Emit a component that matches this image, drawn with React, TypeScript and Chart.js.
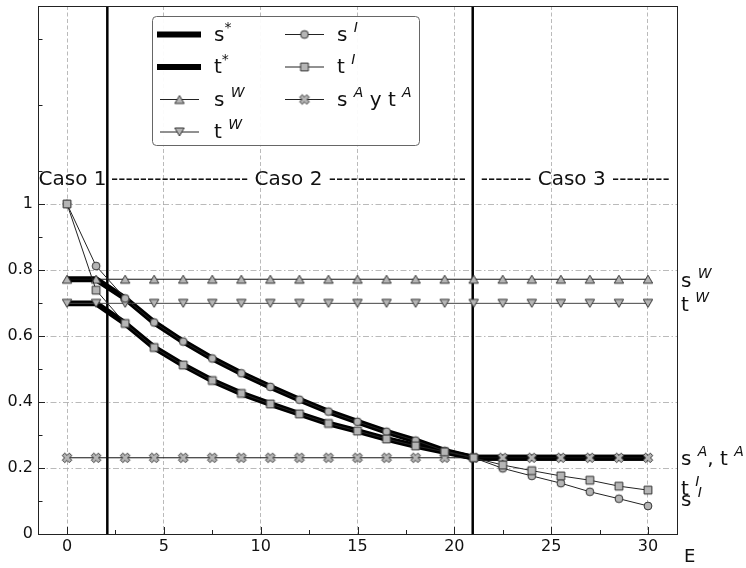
import React, { useEffect, useRef } from 'react';
import { Chart, registerables } from 'chart.js';

Chart.register(...registerables);

// Horizontal axis: E
const E = [0, 1.5, 3, 4.5, 6, 7.5, 9, 10.5, 12, 13.5, 15, 16.5, 18, 19.5, 21, 22.5, 24, 25.5, 27, 28.5, 30];

// Optimal s* and t*
const sStar = [0.772, 0.772, 0.714, 0.641, 0.583, 0.532, 0.487, 0.446, 0.407, 0.371, 0.340, 0.310, 0.283, 0.252, 0.231, 0.231, 0.231, 0.231, 0.231, 0.231, 0.231];
const tStar = [0.699, 0.699, 0.638, 0.565, 0.512, 0.465, 0.426, 0.394, 0.364, 0.335, 0.312, 0.288, 0.267, 0.249, 0.231, 0.231, 0.231, 0.231, 0.231, 0.231, 0.231];

// s^W and t^W
const sW = [0.772, 0.772, 0.772, 0.772, 0.772, 0.772, 0.772, 0.772, 0.772, 0.772, 0.772, 0.772, 0.772, 0.772, 0.772, 0.772, 0.772, 0.772, 0.772, 0.772, 0.772];
const tW = [0.699, 0.699, 0.699, 0.699, 0.699, 0.699, 0.699, 0.699, 0.699, 0.699, 0.699, 0.699, 0.699, 0.699, 0.699, 0.699, 0.699, 0.699, 0.699, 0.699, 0.699];

// s^I and t^I
const sI = [1.0, 0.812, 0.714, 0.641, 0.583, 0.532, 0.487, 0.446, 0.407, 0.371, 0.340, 0.310, 0.283, 0.252, 0.231, 0.199, 0.176, 0.154, 0.128, 0.107, 0.085];
const tI = [1.0, 0.739, 0.638, 0.565, 0.512, 0.465, 0.426, 0.394, 0.364, 0.335, 0.312, 0.288, 0.267, 0.249, 0.231, 0.209, 0.192, 0.176, 0.163, 0.145, 0.133];

// s^A = t^A
const sAtA = [0.231, 0.231, 0.231, 0.231, 0.231, 0.231, 0.231, 0.231, 0.231, 0.231, 0.231, 0.231, 0.231, 0.231, 0.231, 0.231, 0.231, 0.231, 0.231, 0.231, 0.231];

// Boundaries between Caso 1 / Caso 2 / Caso 3
const caseBounds = [2.08, 20.95];

const xTicks = [0, 5, 10, 15, 20, 25, 30];
const xMinorTicks = [2.5, 7.5, 12.5, 17.5, 22.5, 27.5];
const yTicks = [0, 0.2, 0.4, 0.6, 0.8, 1];
const yMinorTicks = [0.1, 0.3, 0.5, 0.7, 0.9, 1.1, 1.3, 1.5];

const FONT = '"DejaVu Sans"';
const INK = '#111';
const GRID = '#a8a8a8';
const MARKER_FILL = '#b5b5b5';
const MARKER_EDGE = '#333';

type Part = { t: string; sup?: boolean; upright?: boolean };

const legendItems: { parts: Part[]; kind: string; col: number; row: number }[] = [
  { parts: [{ t: 's' }, { t: '*', sup: true, upright: true }], kind: 'thick', col: 0, row: 0 },
  { parts: [{ t: 't' }, { t: '*', sup: true, upright: true }], kind: 'thick', col: 0, row: 1 },
  { parts: [{ t: 's ' }, { t: 'W', sup: true }], kind: 'triUp', col: 0, row: 2 },
  { parts: [{ t: 't ' }, { t: 'W', sup: true }], kind: 'triDown', col: 0, row: 3 },
  { parts: [{ t: 's ' }, { t: 'I', sup: true }], kind: 'circle', col: 1, row: 0 },
  { parts: [{ t: 't ' }, { t: 'I', sup: true }], kind: 'square', col: 1, row: 1 },
  { parts: [{ t: 's ' }, { t: 'A', sup: true }, { t: ' y t ' }, { t: 'A', sup: true }], kind: 'x', col: 1, row: 2 },
];

// Labels on the right of the plot, anchored at a value on the y axis (baseline)
const rightLabels: { parts: Part[]; at: number }[] = [
  { parts: [{ t: 's ' }, { t: 'W', sup: true }], at: 0.748 },
  { parts: [{ t: 't ' }, { t: 'W', sup: true }], at: 0.676 },
  { parts: [{ t: 's ' }, { t: 'A', sup: true }, { t: ', t ' }, { t: 'A', sup: true }], at: 0.209 },
  { parts: [{ t: 't ' }, { t: 'I', sup: true }], at: 0.118 },
  { parts: [{ t: 's ' }, { t: 'I', sup: true }], at: 0.086 },
];

function makeMarker(kind: string): HTMLCanvasElement {
  const S = 14;
  const c = document.createElement('canvas');
  c.width = S;
  c.height = S;
  const g = c.getContext('2d')!;
  g.translate(S / 2, S / 2);
  g.fillStyle = MARKER_FILL;
  g.strokeStyle = MARKER_EDGE;
  g.lineWidth = 1;
  g.lineJoin = 'round';
  g.beginPath();
  if (kind === 'circle') {
    g.arc(0, 0, 3.9, 0, Math.PI * 2);
  } else if (kind === 'square') {
    g.rect(-3.9, -3.9, 7.8, 7.8);
  } else if (kind === 'triUp') {
    g.moveTo(0, -4);
    g.lineTo(4.7, 4);
    g.lineTo(-4.7, 4);
    g.closePath();
  } else if (kind === 'triDown') {
    g.moveTo(0, 4);
    g.lineTo(4.7, -4);
    g.lineTo(-4.7, -4);
    g.closePath();
  } else {
    const L = 5;
    const t = 1.75;
    const pts = [[-t, -L], [t, -L], [t, -t], [L, -t], [L, t], [t, t], [t, L], [-t, L], [-t, t], [-L, t], [-L, -t], [-t, -t]];
    const k = Math.SQRT1_2;
    pts.forEach(([px, py], i) => {
      const rx = (px - py) * k;
      const ry = (px + py) * k;
      if (i) g.lineTo(rx, ry);
      else g.moveTo(rx, ry);
    });
    g.closePath();
  }
  g.fill();
  g.stroke();
  return c;
}

function drawRich(ctx: CanvasRenderingContext2D, x: number, y: number, parts: Part[], size = 20) {
  let cx = x;
  ctx.textBaseline = 'alphabetic';
  ctx.textAlign = 'left';
  ctx.fillStyle = INK;
  for (const p of parts) {
    if (p.sup) {
      ctx.font = `${p.upright ? '' : 'italic '}14px ${FONT}`;
      ctx.fillText(p.t, cx, y - 9);
    } else {
      ctx.font = `${size}px ${FONT}`;
      ctx.fillText(p.t, cx, y);
    }
    cx += ctx.measureText(p.t).width;
  }
}

function seg(ctx: CanvasRenderingContext2D, x0: number, y0: number, x1: number, y1: number) {
  ctx.beginPath();
  ctx.moveTo(x0, y0);
  ctx.lineTo(x1, y1);
  ctx.stroke();
}

export default function App() {
  const ref = useRef<HTMLCanvasElement>(null);

  useEffect(() => {
    const canvas = ref.current;
    if (!canvas) return;

    const markers: Record<string, HTMLCanvasElement> = {
      circle: makeMarker('circle'),
      square: makeMarker('square'),
      triUp: makeMarker('triUp'),
      triDown: makeMarker('triDown'),
      x: makeMarker('x'),
    };

    const pts = (ys: number[]) => E.map((x, i) => ({ x, y: ys[i] }));

    const decor = {
      id: 'decor',
      beforeDatasetsDraw(chart: any) {
        const { ctx, chartArea: a, scales } = chart;
        const xs = scales.x;
        const ys = scales.y;
        ctx.save();
        // vertical lines separating the cases
        ctx.strokeStyle = '#000';
        ctx.lineWidth = 2.5;
        caseBounds.forEach((v) => {
          const px = xs.getPixelForValue(v);
          seg(ctx, px, a.top, px, a.bottom);
        });
        // case captions
        ctx.fillStyle = INK;
        ctx.font = `20px ${FONT}`;
        ctx.textBaseline = 'alphabetic';
        ctx.textAlign = 'left';
        const base = ys.getPixelForValue(1.058);
        ctx.fillText('Caso 1', xs.getPixelForValue(-1.47), base);
        ctx.fillText('------------------- Caso 2 -------------------', xs.getPixelForValue(2.27), base);
        ctx.fillText('------- Caso 3 --------', xs.getPixelForValue(21.37), base);
        ctx.restore();
      },
      afterDatasetsDraw(chart: any) {
        const { ctx, chartArea: a, scales } = chart;
        const xs = scales.x;
        const ys = scales.y;
        ctx.save();
        // frame
        ctx.strokeStyle = '#222';
        ctx.lineWidth = 1;
        ctx.strokeRect(a.left + 0.5, a.top + 0.5, a.right - a.left, a.bottom - a.top);
        // inward ticks
        xTicks.forEach((v) => {
          const px = Math.round(xs.getPixelForValue(v)) + 0.5;
          seg(ctx, px, a.bottom, px, a.bottom - 7);
        });
        xMinorTicks.forEach((v) => {
          const px = Math.round(xs.getPixelForValue(v)) + 0.5;
          seg(ctx, px, a.bottom, px, a.bottom - 4);
        });
        yTicks.forEach((v) => {
          const py = Math.round(ys.getPixelForValue(v)) + 0.5;
          seg(ctx, a.left, py, a.left + 7, py);
        });
        yMinorTicks.forEach((v) => {
          const py = Math.round(ys.getPixelForValue(v)) + 0.5;
          seg(ctx, a.left, py, a.left + 4.5, py);
        });

        // legend
        const LX = 152.5, LY = 16.5, LW = 267, LH = 129;
        ctx.beginPath();
        ctx.roundRect(LX, LY, LW, LH, 4);
        ctx.fillStyle = 'rgba(255,255,255,0.95)';
        ctx.fill();
        ctx.strokeStyle = '#666';
        ctx.lineWidth = 1;
        ctx.stroke();
        const rowY = [34.5, 67, 99.5, 132];
        const cols = [
          { thick: [157, 201], thin: [160, 199], text: 214 },
          { thick: [285, 324], thin: [285, 324], text: 337 },
        ];
        legendItems.forEach((it) => {
          const c = cols[it.col];
          const y = rowY[it.row];
          ctx.strokeStyle = '#000';
          if (it.kind === 'thick') {
            ctx.lineWidth = 5.8;
            seg(ctx, c.thick[0], y, c.thick[1], y);
          } else {
            ctx.lineWidth = 1;
            ctx.strokeStyle = '#222';
            seg(ctx, c.thin[0], y, c.thin[1], y);
            const m = markers[it.kind];
            const mx = (c.thin[0] + c.thin[1]) / 2;
            ctx.drawImage(m, mx - m.width / 2, y - m.height / 2);
          }
          drawRich(ctx, c.text, y + 6, it.parts);
        });

        // labels to the right of the frame
        rightLabels.forEach((l) => {
          drawRich(ctx, a.right + 4, ys.getPixelForValue(l.at), l.parts);
        });
        ctx.fillStyle = INK;
        ctx.font = `18px ${FONT}`;
        ctx.textBaseline = 'alphabetic';
        ctx.textAlign = 'left';
        ctx.fillText('E', a.right + 7, 562);
        ctx.restore();
      },
    };

    const chart = new Chart(canvas, {
      type: 'line',
      data: {
        datasets: [
          { label: 's*', data: pts(sStar), borderColor: '#000', borderWidth: 5.8, pointRadius: 0, borderJoinStyle: 'round', order: 10 },
          { label: 't*', data: pts(tStar), borderColor: '#000', borderWidth: 5.8, pointRadius: 0, borderJoinStyle: 'round', order: 10 },
          { label: 's W', data: pts(sW), borderColor: '#111', borderWidth: 1, pointStyle: markers.triUp, pointRadius: 5, order: 6 },
          { label: 't W', data: pts(tW), borderColor: '#444', borderWidth: 1, pointStyle: markers.triDown, pointRadius: 5, order: 6 },
          { label: 's A y t A', data: pts(sAtA), borderColor: '#111', borderWidth: 1, pointStyle: markers.x, pointRadius: 5, order: 5 },
          { label: 's I', data: pts(sI), borderColor: '#222', borderWidth: 1, pointStyle: markers.circle, pointRadius: 5, order: 4 },
          { label: 't I', data: pts(tI), borderColor: '#222', borderWidth: 1, pointStyle: markers.square, pointRadius: 5, order: 3 },
        ] as any,
      },
      options: {
        animation: false,
        responsive: false,
        events: [],
        layout: { padding: { top: 6, right: 69, left: 0, bottom: 0 } },
        plugins: { legend: { display: false }, tooltip: { enabled: false } },
        scales: {
          x: {
            type: 'linear',
            min: -1.5,
            max: 31.5,
            afterBuildTicks: (s: any) => {
              s.ticks = xTicks.map((v) => ({ value: v }));
            },
            afterFit: (s: any) => {
              s.height = 34;
              s.paddingLeft = 0;
              s.paddingRight = 0;
            },
            grid: { color: GRID, lineWidth: 0.8, drawTicks: false },
            border: { display: false, dash: [4, 2.5] },
            ticks: {
              color: INK,
              font: { family: 'DejaVu Sans', size: 16 },
              padding: 3,
              maxRotation: 0,
              callback: (v: any) => String(v),
            },
          },
          y: {
            type: 'linear',
            min: 0,
            max: 1.6,
            afterBuildTicks: (s: any) => {
              s.ticks = yTicks.map((v) => ({ value: v }));
            },
            afterFit: (s: any) => {
              s.width = 38;
              s.paddingTop = 0;
              s.paddingBottom = 0;
            },
            grid: {
              color: (c: any) => (c.tick && c.tick.value > 0.001 ? GRID : 'rgba(0,0,0,0)'),
              lineWidth: 0.8,
              drawTicks: false,
            },
            border: { display: false, dash: [6, 2.5, 1.5, 2.5] },
            ticks: {
              color: INK,
              font: { family: 'DejaVu Sans', size: 16 },
              padding: 5,
              callback: (v: any) => String(Math.round(Number(v) * 10) / 10),
            },
          },
        },
      },
      plugins: [decor],
    });

    return () => chart.destroy();
  }, []);

  return (
    <div style={{ position: 'fixed', left: 0, top: 0, width: 746, height: 568, background: '#fff' }}>
      <canvas ref={ref} width={746} height={568} style={{ display: 'block' }} />
    </div>
  );
}
